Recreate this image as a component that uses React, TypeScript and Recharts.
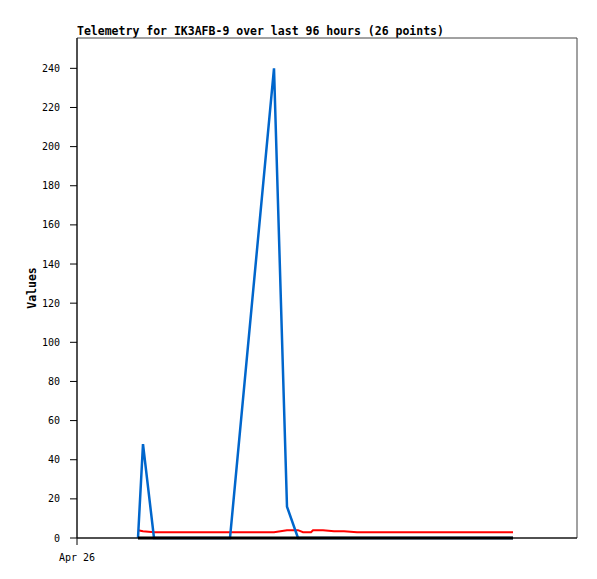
import { LineChart, Line, XAxis, YAxis, ReferenceArea } from 'recharts';

// hours since Apr 26 00:00
const hours = [
  12.2, 13.2, 15.4, 23.0, 30.6, 39.4, 42.0, 44.2, 45.2, 46.8, 47.2, 49.2, 51.4,
  53.4, 56.0, 59.2, 62.0, 64.8, 67.6, 70.4, 73.2, 76.0, 78.8, 81.6, 84.4, 87.2,
];
const blueValues = [0, 48, 0, 0, 0, 240, 16, 0, 0, 0, 0, 0, 0, 0, 0, 0, 0, 0, 0, 0, 0, 0, 0, 0, 0, 0];
const redValues = [
  4, 3.5, 3, 3, 3, 3, 4, 4, 3, 3, 4, 4, 3.5, 3.5, 3, 3, 3, 3, 3, 3, 3, 3, 3, 3, 3, 3,
];
const blackValues = [0, 0, 0, 0, 0, 0, 0, 0, 0, 0, 0, 0, 0, 0, 0, 0, 0, 0, 0, 0, 0, 0, 0, 0, 0, 0];
const yTicks = [0, 20, 40, 60, 80, 100, 120, 140, 160, 180, 200, 220, 240];
const xTickLabels: Record<number, string> = { 0: 'Apr 26' };

const data = hours.map((h, i) => ({
  t: h,
  blue: blueValues[i],
  red: redValues[i],
  black: blackValues[i],
}));

const FONT = '"DejaVu Sans Mono", monospace';

export default function App() {
  return (
    <div style={{ position: 'absolute', left: 0, top: 0, width: 597, height: 579, background: '#fff' }}>
      <LineChart width={597} height={579} data={data} margin={{ top: 38, right: 20, bottom: 0, left: 0 }}>
        <text x={77} y={35} fontFamily={FONT} fontSize={11.5} fontWeight="bold" fill="#000">
          Telemetry for IK3AFB-9 over last 96 hours (26 points)
        </text>
        <text
          x={36}
          y={288}
          fontFamily={FONT}
          fontSize={11.5}
          fontWeight="bold"
          fill="#000"
          textAnchor="middle"
          transform="rotate(-90 36 288)"
        >
          Values
        </text>
        <ReferenceArea x1={0} x2={100} y1={0} y2={255.5} fill="none" stroke="#444" strokeWidth={1} ifOverflow="visible" />
        <XAxis
          dataKey="t"
          type="number"
          domain={[0, 100]}
          ticks={[0]}
          tickFormatter={(v: number) => xTickLabels[v] ?? ''}
          height={41}
          tickSize={7}
          tickMargin={9}
          stroke="#000"
          tick={{ fill: '#000', fontFamily: FONT, fontSize: 10 }}
        />
        <YAxis
          type="number"
          domain={[0, 255.5]}
          ticks={yTicks}
          width={77}
          tickSize={7}
          tickMargin={10}
          stroke="#000"
          tick={{ fill: '#000', fontFamily: FONT, fontSize: 10 }}
        />
        <Line type="linear" dataKey="red" stroke="#ff0000" strokeWidth={2} dot={false} isAnimationActive={false} />
        <Line type="linear" dataKey="blue" stroke="#0066cc" strokeWidth={2.5} dot={false} isAnimationActive={false} />
        <Line type="linear" dataKey="black" stroke="#000" strokeWidth={3} dot={false} isAnimationActive={false} />
      </LineChart>
    </div>
  );
}
